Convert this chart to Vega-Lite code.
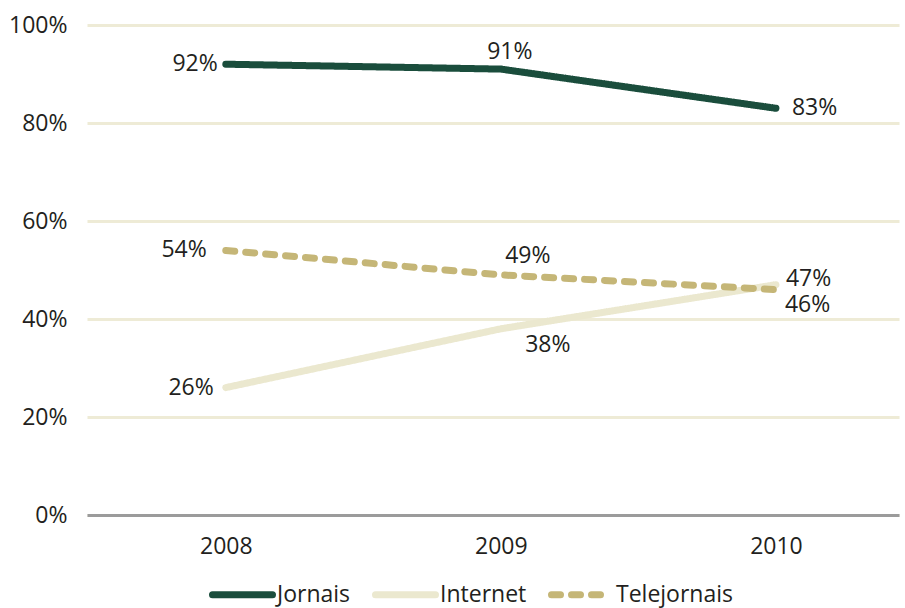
{
  "$schema": "https://vega.github.io/schema/vega-lite/v6.json",
  "width": 812,
  "height": 490,
  "autosize": {"type": "none"},
  "padding": {"left": 87, "top": 25, "right": 6, "bottom": 93},
  "background": "white",
  "config": {"font": "Open Sans", "view": {"stroke": null}},
  "data": {
    "values": [
      {"year": "2008", "serie": "Jornais", "v": 92},
      {"year": "2009", "serie": "Jornais", "v": 91},
      {"year": "2010", "serie": "Jornais", "v": 83},
      {"year": "2008", "serie": "Internet", "v": 26},
      {"year": "2009", "serie": "Internet", "v": 38},
      {"year": "2010", "serie": "Internet", "v": 47},
      {"year": "2008", "serie": "Telejornais", "v": 54},
      {"year": "2009", "serie": "Telejornais", "v": 49},
      {"year": "2010", "serie": "Telejornais", "v": 46}
    ]
  },
  "encoding": {
    "x": {
      "field": "year",
      "type": "ordinal",
      "scale": {"type": "point", "padding": 0.476, "align": 0.53},
      "axis": {
        "title": null,
        "labelAngle": 0,
        "domainColor": "#9b9b9b",
        "domainWidth": 3,
        "ticks": false,
        "tickSize": 0,
        "labelPadding": 20,
        "labelFontSize": 23,
        "labelColor": "#231f20",
        "grid": false,
        "zindex": 1
      }
    },
    "y": {
      "field": "v",
      "type": "quantitative",
      "scale": {"domain": [0, 100]},
      "axis": {
        "title": null,
        "values": [0, 20, 40, 60, 80, 100],
        "labelExpr": "datum.value + '%'",
        "domain": false,
        "ticks": false,
        "tickSize": 0,
        "labelPadding": 20,
        "labelFontSize": 23,
        "labelColor": "#231f20",
        "gridColor": "#eeebd6",
        "gridWidth": 3
      }
    }
  },
  "layer": [
    {
      "mark": {"type": "line", "strokeWidth": 7, "strokeCap": "round"},
      "encoding": {
        "color": {
          "field": "serie",
          "type": "nominal",
          "scale": {"domain": ["Jornais", "Internet", "Telejornais"], "range": ["#1a4d3c", "#ebe8cf", "#c5b677"]},
          "legend": {
            "title": null,
            "orient": "none",
            "legendX": 122,
            "legendY": 536,
            "direction": "horizontal",
            "symbolType": "stroke",
            "symbolSize": 3600,
            "symbolStrokeWidth": 7,
            "labelFontSize": 23,
            "labelColor": "#231f20",
            "labelOffset": 1,
            "columnPadding": 10,
            "encode": {"symbols": {"update": {"strokeCap": {"value": "round"}}}}
          }
        },
        "strokeDash": {
          "field": "serie",
          "type": "nominal",
          "scale": {"domain": ["Jornais", "Internet", "Telejornais"], "range": [[1, 0], [1, 0], [9, 11]]},
          "legend": {
            "title": null,
            "orient": "none",
            "legendX": 122,
            "legendY": 536,
            "direction": "horizontal",
            "symbolType": "stroke",
            "symbolSize": 3600,
            "symbolStrokeWidth": 7,
            "labelFontSize": 23,
            "labelColor": "#231f20",
            "labelOffset": 1,
            "columnPadding": 10,
            "encode": {"symbols": {"update": {"strokeCap": {"value": "round"}}}}
          }
        }
      }
    },
    {
      "transform": [{"filter": "datum.year == '2008' && datum.serie == 'Jornais'"}],
      "mark": {"type": "text", "fontSize": 23, "color": "#231f20", "align": "right", "baseline": "middle", "dx": -8, "text": {"expr": "datum.v + '%'"}}
    },
    {
      "transform": [{"filter": "datum.year == '2008' && datum.serie == 'Internet'"}],
      "mark": {"type": "text", "fontSize": 23, "color": "#231f20", "align": "right", "baseline": "middle", "dx": -12, "text": {"expr": "datum.v + '%'"}}
    },
    {
      "transform": [{"filter": "datum.year == '2008' && datum.serie == 'Telejornais'"}],
      "mark": {"type": "text", "fontSize": 23, "color": "#231f20", "align": "right", "baseline": "middle", "dx": -19, "text": {"expr": "datum.v + '%'"}}
    },
    {
      "transform": [{"filter": "datum.year == '2009' && datum.serie == 'Jornais'"}],
      "mark": {"type": "text", "fontSize": 23, "color": "#231f20", "align": "center", "baseline": "middle", "dx": 9, "dy": -17, "text": {"expr": "datum.v + '%'"}}
    },
    {
      "transform": [{"filter": "datum.year == '2009' && datum.serie == 'Telejornais'"}],
      "mark": {"type": "text", "fontSize": 23, "color": "#231f20", "align": "center", "baseline": "middle", "dx": 27, "dy": -19, "text": {"expr": "datum.v + '%'"}}
    },
    {
      "transform": [{"filter": "datum.year == '2009' && datum.serie == 'Internet'"}],
      "mark": {"type": "text", "fontSize": 23, "color": "#231f20", "align": "center", "baseline": "middle", "dx": 47, "dy": 16, "text": {"expr": "datum.v + '%'"}}
    },
    {
      "transform": [{"filter": "datum.year == '2010' && datum.serie == 'Jornais'"}],
      "mark": {"type": "text", "fontSize": 23, "color": "#231f20", "align": "left", "baseline": "middle", "dx": 16, "text": {"expr": "datum.v + '%'"}}
    },
    {
      "transform": [{"filter": "datum.year == '2010' && datum.serie == 'Internet'"}],
      "mark": {"type": "text", "fontSize": 23, "color": "#231f20", "align": "left", "baseline": "middle", "dx": 10, "dy": -6, "text": {"expr": "datum.v + '%'"}}
    },
    {
      "transform": [{"filter": "datum.year == '2010' && datum.serie == 'Telejornais'"}],
      "mark": {"type": "text", "fontSize": 23, "color": "#231f20", "align": "left", "baseline": "middle", "dx": 9, "dy": 15, "text": {"expr": "datum.v + '%'"}}
    }
  ]
}
